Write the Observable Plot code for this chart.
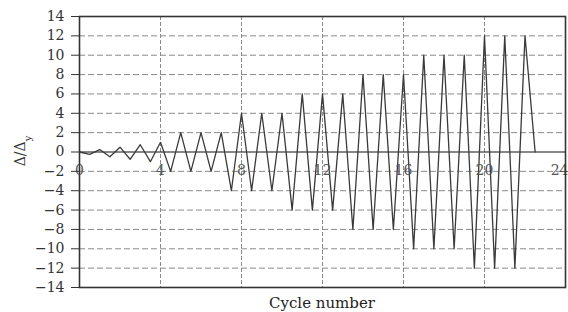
<!DOCTYPE html>
<html>
<head>
<meta charset="utf-8">
<script src="https://cdn.jsdelivr.net/npm/d3@7"></script>
<script src="https://cdn.jsdelivr.net/npm/@observablehq/plot@0.6"></script>
<style>
  html, body { margin: 0; padding: 0; background: #fff; }
  svg { display: block; }
</style>
</head>
<body>
<div id="chart"></div>
<script>
// Amplitude (Δ/Δy) reached in each loading cycle 1..22
const cycles = [1,2,3,4,5,6,7,8,9,10,11,12,13,14,15,16,17,18,19,20,21,22];
const amplitudes = [0.25,0.5,0.75,1, 2,2,2, 4,4,4, 6,6,6, 8,8,8, 10,10,10, 12,12,12];
const endCycle = 22.5;
const xTicks = [0,4,8,12,16,20,24];
const xGrid = [4,8,12,16,20];
const yTicks = [-14,-12,-10,-8,-6,-4,-2,0,2,4,6,8,10,12,14];
const yGrid = [-12,-10,-8,-6,-4,-2,2,4,6,8,10,12];

// Build the zig-zag history: each cycle goes down to -a at mid-cycle, up to +a at its end
const points = [{x: 0, y: 0}];
cycles.forEach((c, i) => {
  points.push({x: c - 0.5, y: -amplitudes[i]});
  points.push({x: c, y: amplitudes[i]});
});
points.push({x: endCycle, y: 0});

const lastTick = xTicks[xTicks.length - 1];

const chart = Plot.plot({
  width: 568,
  height: 312,
  marginLeft: 79,
  marginRight: 3,
  marginTop: 16,
  marginBottom: 25,
  style: {fontFamily: "'DejaVu Serif', serif", fontSize: "14px", color: "#333", background: "#fff"},
  x: {domain: [0, 24], axis: null},
  y: {domain: [-14, 14], axis: null},
  marks: [
    Plot.ruleY(yGrid, {stroke: "#8a8a8a", strokeWidth: 1, strokeDasharray: "6,3"}),
    Plot.ruleX(xGrid, {stroke: "#8a8a8a", strokeWidth: 1, strokeDasharray: "4,2"}),
    Plot.ruleY([0], {stroke: "#111", strokeWidth: 1.2}),
    Plot.line(points, {x: "x", y: "y", stroke: "#3a3a3a", strokeWidth: 1.3}),
    Plot.text(xTicks.filter(d => d !== lastTick), {x: d => d, y: 0, dy: 19, text: d => String(d), fill: "#555", fontSize: 14}),
    Plot.text([lastTick], {x: d => d, y: 0, dy: 19, dx: 3, textAnchor: "end", text: d => String(d), fill: "#555", fontSize: 14}),
    Plot.axisY({ticks: yTicks, tickSize: 8, tickPadding: 7, label: null, stroke: "#333", fill: "#333", fontSize: 14}),
    Plot.frame({stroke: "#333", strokeWidth: 1.6})
  ]
});

const svg = d3.select(chart);
// x-axis title
svg.append("text")
  .attr("x", 322).attr("y", 308)
  .attr("text-anchor", "middle")
  .attr("font-family", "'DejaVu Serif', serif")
  .attr("font-size", 15)
  .attr("fill", "#222")
  .text("Cycle number");
// y-axis title Δ/Δy with subscript
const yl = svg.append("text")
  .attr("transform", "translate(25,151) rotate(-90)")
  .attr("text-anchor", "middle")
  .attr("font-family", "'DejaVu Serif', serif")
  .attr("font-size", 14)
  .attr("fill", "#333");
yl.append("tspan").text("Δ/Δ");
yl.append("tspan").attr("baseline-shift", "sub").attr("font-size", 10).text("y");

document.getElementById("chart").appendChild(chart);
</script>
</body>
</html>
